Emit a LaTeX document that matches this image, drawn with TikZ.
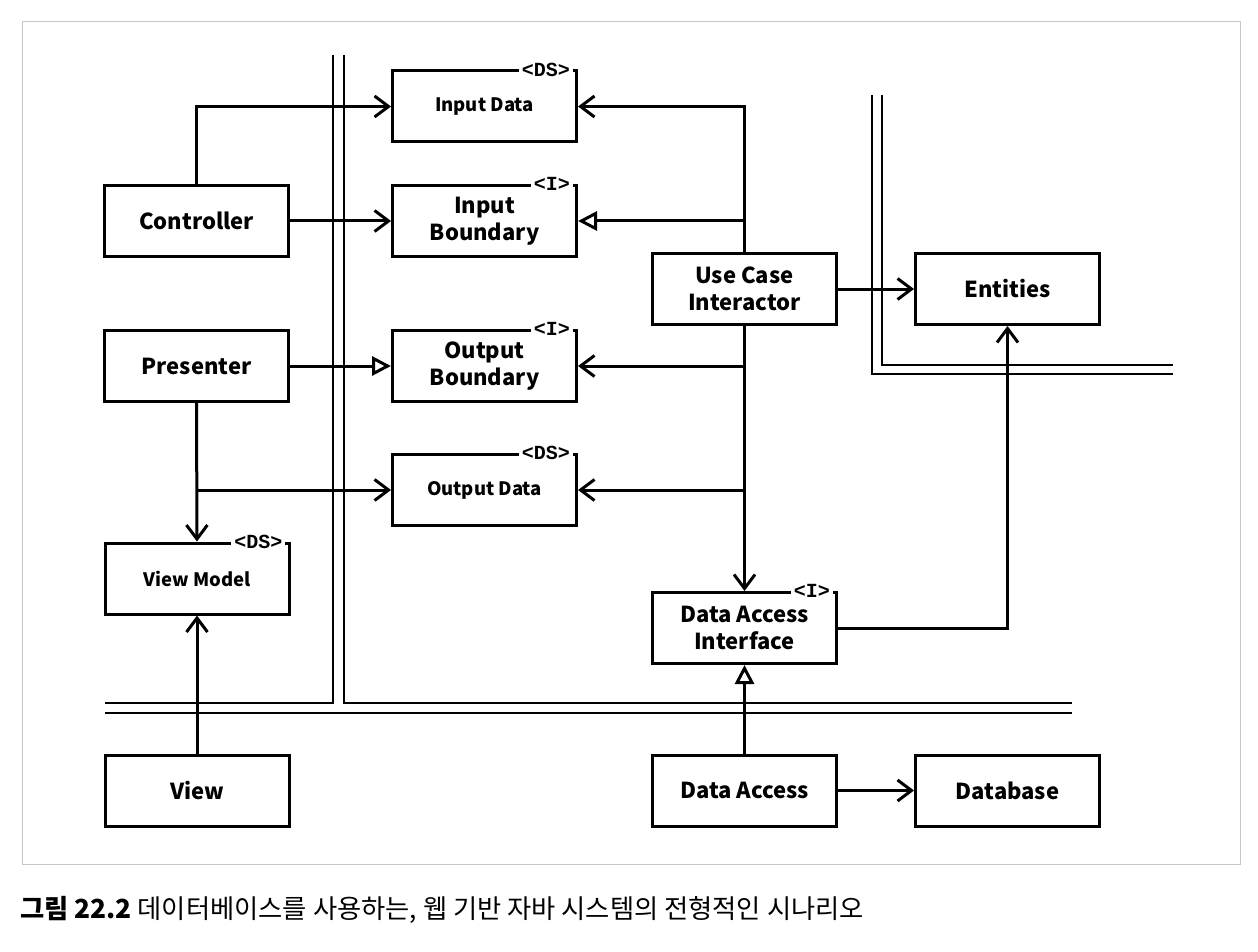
\documentclass[tikz,border=0pt]{standalone}
\usepackage{fontspec}
\newfontfamily\cjk{Noto Sans CJK KR}
\newfontfamily\tagfont{Liberation Mono}
\usetikzlibrary{arrows.meta,calc}
\begin{document}
\begin{tikzpicture}[x=1pt,y=-1pt,
  box/.style={draw, line width=3pt, minimum width=184pt, minimum height=71pt, inner sep=0pt, align=center, font=\cjk\bfseries\fontsize{22}{27}\selectfont},
  dsbox/.style={box, font=\cjk\bfseries\fontsize{18.5}{22}\selectfont},
  tagnode/.style={fill=white, inner xsep=3pt, inner ysep=1pt, font=\tagfont\bfseries\fontsize{20}{20}\selectfont, anchor=east},
  conn/.style={line width=3pt},
  arr/.style={conn, -{Straight Barb[length=14pt,width=21pt]}},
  tri/.style={conn, -{Triangle[open,length=19pt,width=19pt,fill=white]}},
  wall/.style={line width=2.7pt}
]
\useasboundingbox (0,0) rectangle (1258,952);
\fill[white] (0,0) rectangle (1258,952);
\draw[line width=1pt, gray!45] (22,22) rectangle (1240,864);

% double-line boundaries
\draw[wall] (333,55) -- (333,703) -- (105,703);
\draw[wall] (344,55) -- (344,703) -- (1072,703);
\draw[wall] (105,713) -- (1072,713);
\draw[wall] (872,95) -- (872,374) -- (1173,374);
\draw[wall] (882,95) -- (882,365) -- (1173,365);

% boxes
\node[box] (ctrl) at (196.5,221) {Controller};
\node[box] (pres) at (196.5,366) {Presenter};
\node[dsbox] (vm) at (197,578.5) {View Model};
\node[box] (view) at (197,790.5) {View};
\node[dsbox] (indata) at (484.5,106.5) {Input Data};
\node[box] (inbound) at (484.5,221) {Input\\Boundary};
\node[box] (outbound) at (484.5,366) {Output\\Boundary};
\node[dsbox] (outdata) at (484.5,490) {Output Data};
\node[box] (uci) at (744.5,289) {Use Case\\Interactor};
\node[box] (ent) at (1007.5,289) {Entities};
\node[box] (dai) at (744.5,628) {Data Access\\Interface};
\node[box] (da) at (744.5,790.5) {Data Access};
\node[box] (db) at (1007.5,790.5) {Database};

% stereotype tags
\node[tagnode] (t1) at ($(indata.north east)+(-5,0)$) {<DS>};
\node[tagnode] (t2) at ($(inbound.north east)+(-5,0)$) {<I>};
\node[tagnode] (t3) at ($(outbound.north east)+(-5,0)$) {<I>};
\node[tagnode] (t4) at ($(outdata.north east)+(-5,0)$) {<DS>};
\node[tagnode] (t5) at ($(vm.north east)+(-5,0)$) {<DS>};
\node[tagnode] (t6) at ($(dai.north east)+(-5,0)$) {<I>};

% connectors
\draw[arr] (ctrl.north) |- (indata.west);
\draw[arr] (ctrl.east) -- (inbound.west);
\draw[arr] (uci.north) |- (indata.east);
\coordinate (ucib) at (uci.north |- inbound.east);
\draw[tri] (ucib) -- (inbound.east);
\draw[arr] (uci.east) -- (ent.west);
\draw[arr] (uci.south) -- (dai.north);
\coordinate (ucoa) at (uci.south |- outbound.east);
\coordinate (ucob) at (uci.south |- outdata.east);
\draw[arr] (ucoa) -- (outbound.east);
\draw[arr] (ucob) -- (outdata.east);
\draw[tri] (pres.east) -- (outbound.west);
\draw[arr] (pres.south) -- (vm.north);
\coordinate (presb) at (pres.south |- outdata.west);
\draw[arr] (presb) -- (outdata.west);
\draw[arr] (view.north) -- (vm.south);
\draw[arr] (dai.east) -| (ent.south);
\draw[tri] (da.north) -- (dai.south);
\draw[arr] (da.east) -- (db.west);

% caption
\node[anchor=west, inner sep=0pt, font=\cjk\fontsize{26.3}{30}\selectfont] (cap) at (20,910) {{\bfseries 그림 22.2} 데이터베이스를 사용하는, 웹 기반 자바 시스템의 전형적인 시나리오};
\end{tikzpicture}
\end{document}
